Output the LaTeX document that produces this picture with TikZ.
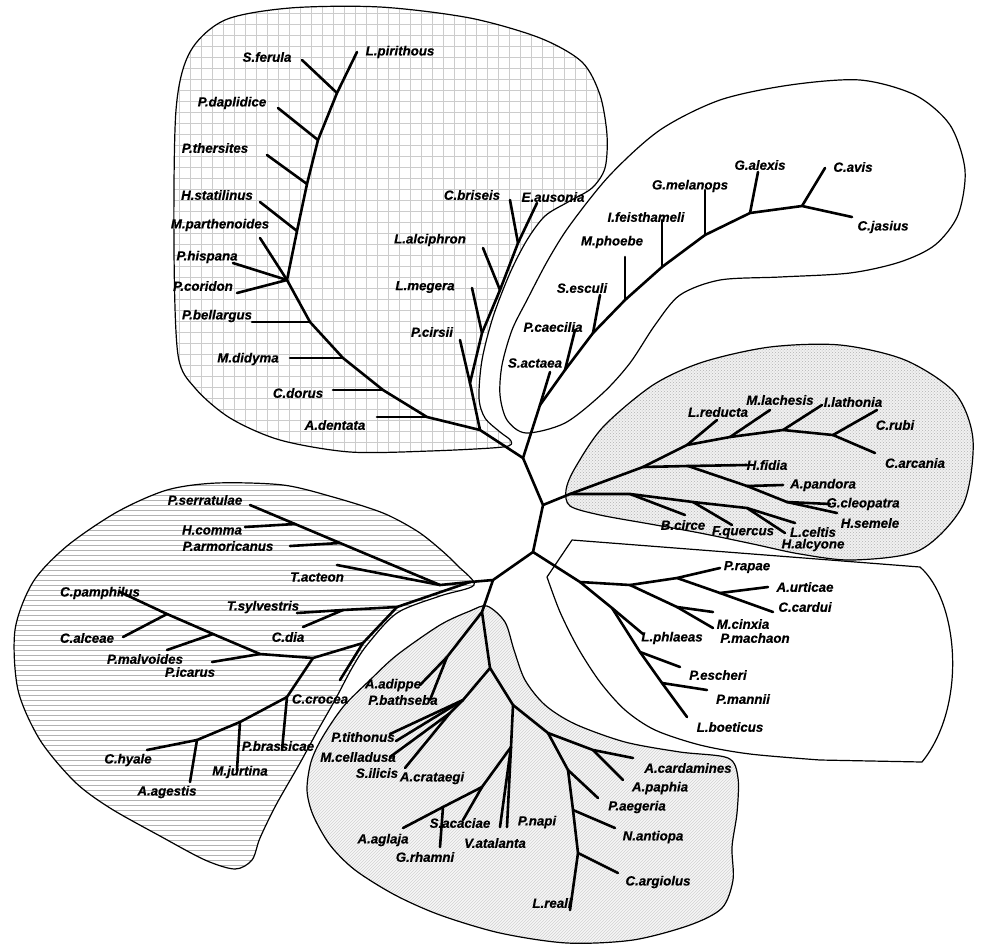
\documentclass[tikz,border=0pt]{standalone}
\usepackage{fontspec}
\setmainfont{Liberation Sans}
\newfontfamily\labfont[BoldItalicFeatures={FakeBold=0.5}]{Liberation Sans}
\usetikzlibrary{patterns}
\begin{document}
\begin{tikzpicture}[x=1pt,y=-1pt,
  br/.style={line width=2.6pt, line cap=round, line join=round},
  ol/.style={line width=1.2pt, line join=round},
  gridl/.style={gray!40, line width=1pt},
  hl/.style={gray!60, line width=0.8pt},
  lab/.style={font=\labfont\fontsize{13.3}{13.3}\selectfont\bfseries\itshape, inner sep=0pt}]
\useasboundingbox (0,0) rectangle (981,945);
\fill[white] (0,0) rectangle (981,945);
% ---------- outlines ----------
\def\oA{plot[smooth cycle, tension=0.5] coordinates {(176,110) (190,52) (225,20) (290,8) (380,7) (470,18) (540,38) (582,62) (600,95) (607,135) (605,168) (592,188) (568,202) (545,216) (527,240) (510,273) (493,317) (482,360) (479,398) (485,418) (500,432) (511,441) (503,447) (430,451) (350,452) (280,440) (230,418) (195,388) (178,355) (174,250)}}
\def\oB{plot[smooth cycle, tension=0.5] coordinates {(526,433) (507,420) (500,395) (502,365) (512,330) (527,300) (548,260) (570,225) (610,175) (660,130) (720,100) (790,85) (860,80) (915,95) (950,125) (965,170) (958,215) (935,245) (900,262) (850,273) (780,277) (720,280) (680,295) (655,325) (630,363) (603,393) (565,423)}}
\def\oC{plot[smooth cycle, tension=0.5] coordinates {(566,490) (570,506) (600,515) (650,524) (700,533) (753,544) (800,554) (853,560) (920,550) (963,505) (973,440) (955,393) (905,360) (840,345) (770,347) (703,362) (653,385) (603,427) (575,468)}}
\def\oD{(572,540) -- (920,567) .. controls (958,600) and (968,705) .. (922,762) -- plot[smooth, tension=0.5] coordinates {(820,760) (750,754) (700,745) (655,730) (625,710) (600,682) (578,648) (560,612) (547,577)} -- cycle}
\def\oE{plot[smooth cycle, tension=0.5] coordinates {(487,606) (505,622) (514,650) (525,680) (545,705) (575,724) (625,742) (680,752) (728,758) (738,778) (737,813) (732,847) (733,880) (722,908) (690,925) (633,940) (567,943) (500,933) (440,915) (395,895) (355,870) (330,845) (313,815) (307,790) (311,762) (322,738) (343,707) (370,680) (397,655) (440,625) (470,611)}}
\def\oF{plot[smooth cycle, tension=0.5] coordinates {(474,585) (458,566) (440,549) (417,531) (383,513) (333,497) (283,485) (217,483) (167,490) (117,512) (67,546) (33,582) (15,630) (18,690) (40,740) (75,782) (110,808) (160,836) (205,860) (235,869) (252,860) (260,838) (276,805) (300,763) (318,730) (335,700) (352,668) (367,645) (397,613) (440,596)}}
% fills
\begin{scope}
  \clip \oA;
  \foreach \x in {168,179,...,620} {\draw[gridl] (\x,0) -- (\x,460);}
  \foreach \y in {2,13,...,460} {\draw[gridl] (160,\y) -- (620,\y);}
\end{scope}
\fill[gray!12] \oC;
\fill[pattern=crosshatch dots, pattern color=gray!60] \oC;
\fill[gray!6] \oE;
\fill[pattern=north east lines, pattern color=gray!35] \oE;
\begin{scope}
  \clip \oF;
  \foreach \y in {480,485,...,875} {\draw[hl] (0,\y) -- (480,\y);}
\end{scope}
\draw[ol] \oA;
\draw[ol] \oB;
\draw[ol] \oC;
\draw[ol] \oD;
\draw[ol] \oE;
\draw[ol] \oF;
% ---------- backbone ----------
\coordinate (A) at (523,458);
\coordinate (B) at (543,505);
\coordinate (C) at (533,552);
\coordinate (D) at (493,580);
\coordinate (N6) at (470,582);
\draw[br] (A)--(B)--(C)--(D)--(N6);
% ---------- clade 1 ----------
\coordinate (L1) at (480,430);
\coordinate (l1) at (427,417);
\coordinate (l2) at (383,390);
\coordinate (l3) at (343,358);
\coordinate (l4) at (310,322);
\coordinate (l5) at (287,280);
\coordinate (l6) at (297,231);
\coordinate (l7) at (307,184);
\coordinate (l8) at (318,140);
\coordinate (l9) at (337,93);
\coordinate (lpir) at (357,52);
\coordinate (ldent) at (377,417);
\coordinate (ldor) at (333,390);
\coordinate (ldid) at (290,358);
\coordinate (lbel) at (252,322);
\coordinate (lcor) at (237,293);
\coordinate (lhis) at (233,263);
\coordinate (lpar) at (260,238);
\coordinate (lsta) at (260,202);
\coordinate (lthe) at (267,155);
\coordinate (ldap) at (278,108);
\coordinate (lfer) at (302,60);
\coordinate (r0) at (470,383);
\coordinate (r1) at (482,333);
\coordinate (r2) at (500,290);
\coordinate (r3) at (518,243);
\coordinate (raus) at (537,203);
\coordinate (rcir) at (460,340);
\coordinate (rmeg) at (472,288);
\coordinate (ralc) at (483,248);
\coordinate (rbri) at (510,200);
\draw[br] (A)--(L1)--(l1)--(l2)--(l3)--(l4)--(l5)--(l6)--(l7)--(l8)--(l9)--(lpir);
\draw[br] (l1)--(ldent); \draw[br] (l2)--(ldor); \draw[br] (l3)--(ldid);
\draw[br] (l4)--(lbel); \draw[br] (l5)--(lcor); \draw[br] (l5)--(lhis);
\draw[br] (l5)--(lpar); \draw[br] (l6)--(lsta); \draw[br] (l7)--(lthe);
\draw[br] (l8)--(ldap); \draw[br] (l9)--(lfer);
\draw[br] (L1)--(r0)--(r1)--(r2)--(r3)--(raus);
\draw[br] (r0)--(rcir); \draw[br] (r1)--(rmeg); \draw[br] (r2)--(ralc); \draw[br] (r3)--(rbri);
% ---------- clade 2 ----------
\coordinate (s1) at (540,405);
\coordinate (s2) at (565,370);
\coordinate (s3) at (593,333);
\coordinate (s4) at (625,300);
\coordinate (s5) at (662,267);
\coordinate (s6) at (705,235);
\coordinate (s7) at (750,213);
\coordinate (s8) at (802,206);
\coordinate (sact) at (550,372);
\coordinate (scae) at (575,330);
\coordinate (sesc) at (600,295);
\coordinate (spho) at (625,257);
\coordinate (sfei) at (662,220);
\coordinate (smel) at (705,190);
\coordinate (sale) at (758,172);
\coordinate (savi) at (825,168);
\coordinate (sjas) at (852,217);
\draw[br] (A)--(s1)--(s2)--(s3)--(s4)--(s5)--(s6)--(s7)--(s8)--(sjas);
\draw[br] (s1)--(sact); \draw[br] (s2)--(scae); \draw[br] (s3)--(sesc);
\draw[br] (s4)--(spho); \draw[br] (s5)--(sfei); \draw[br] (s6)--(smel);
\draw[br] (s7)--(sale); \draw[br] (s8)--(savi);
% ---------- clade 3 ----------
\coordinate (n3) at (570,494);
\coordinate (h1) at (643,467);
\coordinate (h2) at (688,466);
\coordinate (hfid) at (747,465);
\coordinate (h3) at (747,486);
\coordinate (hpan) at (783,485);
\coordinate (h4) at (787,502);
\coordinate (hcle) at (830,504);
\coordinate (hsem) at (837,513);
\coordinate (u1) at (687,445);
\coordinate (ured) at (717,420);
\coordinate (u2) at (730,437);
\coordinate (ulac) at (770,410);
\coordinate (u3) at (783,430);
\coordinate (ulat) at (822,405);
\coordinate (u4) at (833,435);
\coordinate (urub) at (877,410);
\coordinate (uarc) at (875,453);
\coordinate (w1) at (630,494);
\coordinate (wcir) at (685,515);
\coordinate (w2) at (693,502);
\coordinate (wque) at (732,525);
\coordinate (w3) at (747,508);
\coordinate (wcel) at (795,523);
\coordinate (walc) at (785,533);
\draw[br] (B)--(n3)--(h1)--(h2)--(hfid);
\draw[br] (h2)--(h3)--(h4)--(hcle); \draw[br] (h3)--(hpan); \draw[br] (h4)--(hsem);
\draw[br] (h1)--(u1)--(u2)--(u3)--(u4)--(urub); \draw[br] (u4)--(uarc);
\draw[br] (u1)--(ured); \draw[br] (u2)--(ulac); \draw[br] (u3)--(ulat);
\draw[br] (n3)--(w1)--(w2)--(w3)--(wcel); \draw[br] (w1)--(wcir);
\draw[br] (w2)--(wque); \draw[br] (w3)--(walc);
% ---------- clade 4 ----------
\coordinate (n4) at (580,582);
\coordinate (p1) at (630,585);
\coordinate (p2) at (677,578);
\coordinate (prap) at (720,568);
\coordinate (p3) at (720,593);
\coordinate (purt) at (768,587);
\coordinate (pcar) at (773,612);
\coordinate (p4) at (677,607);
\coordinate (pcin) at (713,612);
\coordinate (pmac) at (713,628);
\coordinate (q1) at (612,608);
\coordinate (qphl) at (643,634);
\coordinate (q2) at (640,652);
\coordinate (qesc) at (680,667);
\coordinate (q3) at (662,683);
\coordinate (qman) at (707,690);
\coordinate (qboe) at (687,717);
\draw[br] (C)--(n4)--(p1)--(p2)--(prap);
\draw[br] (p2)--(p3)--(purt); \draw[br] (p3)--(pcar);
\draw[br] (p1)--(p4)--(pcin); \draw[br] (p4)--(pmac);
\draw[br] (n4)--(q1)--(qphl);
\draw[br] (q1)--(q2)--(q3)--(qboe); \draw[br] (q2)--(qesc); \draw[br] (q3)--(qman);
% ---------- clade 5 ----------
\coordinate (f1) at (482,612);
\coordinate (f2) at (447,657);
\coordinate (fadi) at (420,685);
\coordinate (fbat) at (430,700);
\coordinate (f3) at (490,668);
\coordinate (f4) at (463,700);
\coordinate (f5) at (450,713);
\coordinate (ftit) at (390,734);
\coordinate (ftitb) at (396,741);
\coordinate (fcel) at (390,757);
\coordinate (fili) at (405,768);
\coordinate (g1) at (513,705);
\coordinate (g2) at (511,747);
\coordinate (gnap) at (507,827);
\coordinate (gata) at (500,827);
\coordinate (g3) at (482,787);
\coordinate (gaca) at (463,820);
\coordinate (g4) at (443,807);
\coordinate (grha) at (440,847);
\coordinate (gagl) at (403,828);
\coordinate (k1) at (548,733);
\coordinate (k2) at (593,750);
\coordinate (kcar) at (633,758);
\coordinate (kpap) at (623,780);
\coordinate (k3) at (568,770);
\coordinate (kaeg) at (598,798);
\coordinate (k4) at (573,810);
\coordinate (kant) at (615,828);
\coordinate (k5) at (578,853);
\coordinate (karg) at (618,873);
\coordinate (krea) at (570,910);
\draw[br] (D)--(f1)--(f2)--(fadi); \draw[br] (f2)--(fbat);
\draw[br] (f1)--(f3)--(f4)--(ftit); \draw[br] (f4)--(ftitb);
\draw[br] (f4)--(f5)--(fcel); \draw[br] (f5)--(fili);
\draw[br] (f3)--(g1)--(g2)--(gnap); \draw[br] (g2)--(gata);
\draw[br] (g2)--(g3)--(gaca); \draw[br] (g3)--(g4)--(grha); \draw[br] (g4)--(gagl);
\draw[br] (g1)--(k1)--(k2)--(kcar); \draw[br] (k2)--(kpap);
\draw[br] (k1)--(k3)--(kaeg); \draw[br] (k3)--(k4)--(kant);
\draw[br] (k4)--(k5)--(karg); \draw[br] (k5)--(krea);
% ---------- clade 6 ----------
\coordinate (e1) at (440,585);
\coordinate (e2) at (340,543);
\coordinate (e3) at (295,524);
\coordinate (eser) at (250,505);
\coordinate (ecom) at (245,527);
\coordinate (earm) at (290,546);
\coordinate (eact) at (337,565);
\coordinate (t1) at (397,607);
\coordinate (t2) at (343,610);
\coordinate (tsyl) at (297,613);
\coordinate (tdia) at (303,627);
\coordinate (c1) at (363,643);
\coordinate (ccro) at (340,680);
\coordinate (c2) at (313,658);
\coordinate (c3) at (260,654);
\coordinate (c4) at (213,634);
\coordinate (c5) at (167,614);
\coordinate (cpam) at (120,592);
\coordinate (cica) at (212,662);
\coordinate (cmal) at (167,650);
\coordinate (calc) at (123,637);
\coordinate (y1) at (287,697);
\coordinate (ybra) at (282,750);
\coordinate (y2) at (240,722);
\coordinate (yjur) at (237,770);
\coordinate (y3) at (197,740);
\coordinate (yage) at (190,782);
\coordinate (yhya) at (147,750);
\draw[br] (N6)--(e1)--(e2)--(e3)--(eser);
\draw[br] (e1)--(eact); \draw[br] (e2)--(earm); \draw[br] (e3)--(ecom);
\draw[br] (N6)--(t1)--(t2)--(tsyl); \draw[br] (t2)--(tdia);
\draw[br] (t1)--(c1)--(ccro);
\draw[br] (c1)--(c2)--(c3)--(c4)--(c5)--(cpam);
\draw[br] (c3)--(cica); \draw[br] (c4)--(cmal); \draw[br] (c5)--(calc);
\draw[br] (c2)--(y1)--(ybra); \draw[br] (y1)--(y2)--(yjur);
\draw[br] (y2)--(y3)--(yage); \draw[br] (y3)--(yhya);
% ---------- labels ----------
\node[lab] (tfer) at (267,57) {S.ferula};
\node[lab] (tpir) at (400,52) {L.pirithous};
\node[lab] (tdap) at (232,103) {P.daplidice};
\node[lab] (tthe) at (215,148) {P.thersites};
\node[lab] (tsta) at (217,195) {H.statilinus};
\node[lab] (tpar) at (220,225) {M.parthenoides};
\node[lab] (this) at (207,257) {P.hispana};
\node[lab] (tcor) at (203,286) {P.coridon};
\node[lab] (tbel) at (217,316) {P.bellargus};
\node[lab] (tdid) at (248,359) {M.didyma};
\node[lab] (tdor) at (298,393) {C.dorus};
\node[lab] (tden) at (335,425) {A.dentata};
\node[lab] (tbri) at (472,195) {C.briseis};
\node[lab] (taus) at (553,197) {E.ausonia};
\node[lab] (talc) at (430,240) {L.alciphron};
\node[lab] (tmeg) at (425,287) {L.megera};
\node[lab] (tcir) at (432,332) {P.cirsii};
\node[lab] (tact) at (535,363) {S.actaea};
\node[lab] (tcae) at (553,327) {P.caecilia};
\node[lab] (tesc) at (582,288) {S.esculi};
\node[lab] (tpho) at (612,242) {M.phoebe};
\node[lab] (tfei) at (646,217) {I.feisthameli};
\node[lab] (tmel) at (690,186) {G.melanops};
\node[lab] (tale) at (760,165) {G.alexis};
\node[lab] (tavi) at (853,167) {C.avis};
\node[lab] (tjas) at (883,227) {C.jasius};
\node[lab] (tred) at (718,412) {L.reducta};
\node[lab] (tlac) at (780,400) {M.lachesis};
\node[lab] (tlat) at (853,402) {I.lathonia};
\node[lab] (trub) at (895,425) {C.rubi};
\node[lab] (tarc) at (915,463) {C.arcania};
\node[lab] (tfid) at (767,465) {H.fidia};
\node[lab] (tpan) at (823,485) {A.pandora};
\node[lab] (tcle) at (863,504) {G.cleopatra};
\node[lab] (tsem) at (870,523) {H.semele};
\node[lab] (tcirc) at (683,525) {B.circe};
\node[lab] (tque) at (743,532) {F.quercus};
\node[lab] (tcel) at (813,532) {L.celtis};
\node[lab] (talcy) at (813,545) {H.alcyone};
\node[lab] (trap) at (747,567) {P.rapae};
\node[lab] (turt) at (805,587) {A.urticae};
\node[lab] (tcar) at (805,607) {C.cardui};
\node[lab] (tcin) at (743,624) {M.cinxia};
\node[lab] (tmac) at (755,638) {P.machaon};
\node[lab] (tphl) at (672,638) {L.phlaeas};
\node[lab] (tesch) at (718,675) {P.escheri};
\node[lab] (tman) at (743,699) {P.mannii};
\node[lab] (tboe) at (730,727) {L.boeticus};
\node[lab] (tadi) at (393,685) {A.adippe};
\node[lab] (tbat) at (403,700) {P.bathseba};
\node[lab] (ttit) at (363,737) {P.tithonus};
\node[lab] (tcld) at (358,757) {M.celladusa};
\node[lab] (tili) at (377,773) {S.ilicis};
\node[lab] (tcra) at (432,778) {A.crataegi};
\node[lab] (tagl) at (383,840) {A.aglaja};
\node[lab] (trha) at (425,857) {G.rhamni};
\node[lab] (taca) at (460,823) {S.acaciae};
\node[lab] (tata) at (495,843) {V.atalanta};
\node[lab] (tnap) at (537,822) {P.napi};
\node[lab] (tcard) at (688,768) {A.cardamines};
\node[lab] (tpap) at (660,788) {A.paphia};
\node[lab] (taeg) at (637,807) {P.aegeria};
\node[lab] (tant) at (653,837) {N.antiopa};
\node[lab] (targ) at (658,882) {C.argiolus};
\node[lab] (trea) at (552,903) {L.reali};
\node[lab] (tser) at (205,500) {P.serratulae};
\node[lab] (tcom) at (212,530) {H.comma};
\node[lab] (tarm) at (228,546) {P.armoricanus};
\node[lab] (tacte) at (317,577) {T.acteon};
\node[lab] (tpam) at (100,593) {C.pamphilus};
\node[lab] (tsyl2) at (263,607) {T.sylvestris};
\node[lab] (talce) at (87,638) {C.alceae};
\node[lab] (tdia2) at (288,637) {C.dia};
\node[lab] (tmal) at (145,659) {P.malvoides};
\node[lab] (tica) at (190,672) {P.icarus};
\node[lab] (tcro) at (320,699) {C.crocea};
\node[lab] (thya) at (128,760) {C.hyale};
\node[lab] (tbra) at (278,746) {P.brassicae};
\node[lab] (tjur) at (240,772) {M.jurtina};
\node[lab] (tage) at (167,792) {A.agestis};
\end{tikzpicture}
\end{document}
